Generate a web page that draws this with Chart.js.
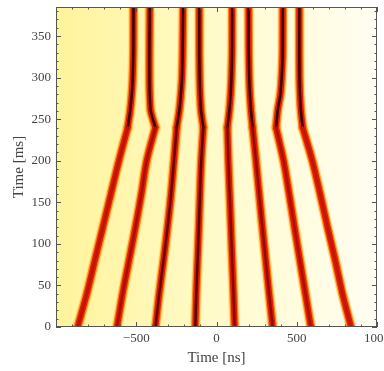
<!DOCTYPE html>
<html>
<head>
<meta charset="utf-8">
<script src="https://cdn.jsdelivr.net/npm/chart.js@4"></script>
<style>
  html, body { margin: 0; padding: 0; background: #fff; overflow: hidden; }
</style>
</head>
<body>
<canvas id="trackChart" width="384" height="371"></canvas>
<script>
// sample times (ms) shared by every track; the kink sits at 240 ms
const times = [0, 40, 80, 120, 160, 200, 240, 260, 280, 300, 330, 385];
const kinkTime = 240;

// track centre positions (ns) at each sample time
const track1 = [-865, -808, -758, -708, -658, -608, -553, -538, -528, -522, -518, -517];
const track2 = [-620, -585, -545, -505, -468, -435, -381, -410, -416, -418, -418, -416];
const track3 = [-380, -357, -330, -305, -283, -265, -248, -232, -222, -215, -211, -208];
const track4 = [-132, -126, -118, -110, -103, -95, -82, -96, -102, -105, -107, -107];
const track5 = [113, 106, 98, 90, 82, 74, 68, 80, 88, 93, 97, 98];
const track6 = [350, 328, 307, 286, 266, 246, 225, 215, 208, 204, 201, 200];
const track7 = [588, 554, 520, 486, 453, 418, 371, 381, 398, 406, 412, 413];
const track8 = [838, 785, 740, 692, 646, 597, 537, 526, 520, 517, 516, 516];

const xTicks = [-500, 0, 500, 1000];
const yTicks = [0, 50, 100, 150, 200, 250, 300, 350];

const tracks = [track1, track2, track3, track4, track5, track6, track7, track8];
// core shade below the kink, darker for the inner tracks
const lowerCore = ["#c01400", "#ac0e00", "#6a0600", "#5a0400", "#8a0800", "#980a00", "#b40e00", "#c41600"];
const upperCore = "#3c0000";

function toPoints(track, upper) {
  return track
    .map((x, i) => ({ x: x, y: times[i] }))
    .filter(p => upper ? p.y >= kinkTime : p.y <= kinkTime);
}

function layer(points, width, color, order, tension) {
  return {
    data: points,
    showLine: true,
    pointRadius: 0,
    borderWidth: width,
    borderColor: color,
    borderJoinStyle: "round",
    borderCapStyle: "round",
    tension: tension,
    clip: 0,
    order: order
  };
}

const datasets = [];
tracks.forEach((t, i) => {
  [false, true].forEach(upper => {
    const pts = toPoints(t, upper);
    const k = upper ? 0.2 : 0.3;
    datasets.push(layer(pts, 11, "rgba(255,200,60,0.45)", 4, k));
    datasets.push(layer(pts, 8.5, "#f58a1c", 3, k));
    datasets.push(layer(pts, 6, "#de1c08", 2, k));
    datasets.push(layer(pts, 2.5, upper ? upperCore : lowerCore[i], 1, k));
  });
});

// pale yellow field behind the tracks
const backdrop = {
  id: "backdrop",
  beforeDatasetsDraw(chart) {
    const { ctx, chartArea: a } = chart;
    const g = ctx.createLinearGradient(a.left, 0, a.right, 0);
    g.addColorStop(0, "#fff49c");
    g.addColorStop(0.25, "#fff7b2");
    g.addColorStop(0.55, "#fffbd0");
    g.addColorStop(1, "#fffef2");
    ctx.save();
    ctx.fillStyle = g;
    ctx.fillRect(a.left, a.top, a.width, a.height);
    ctx.restore();
  }
};

// frame with inward ticks on all four sides
const frameTicks = {
  id: "frameTicks",
  afterDatasetsDraw(chart) {
    const { ctx, chartArea: a, scales: { x, y } } = chart;
    ctx.save();
    ctx.strokeStyle = "#555";
    ctx.lineWidth = 1;
    ctx.strokeRect(a.left + 0.5, a.top + 0.5, a.width - 1, a.height - 1);
    ctx.beginPath();
    for (let v = -1000; v <= 1000; v += 100) {
      const px = Math.round(x.getPixelForValue(v)) + 0.5;
      const len = v % 500 === 0 ? 5 : 2.5;
      ctx.moveTo(px, a.bottom); ctx.lineTo(px, a.bottom - len);
      ctx.moveTo(px, a.top); ctx.lineTo(px, a.top + len);
    }
    for (let v = 0; v <= 385; v += 10) {
      const py = Math.round(y.getPixelForValue(v)) + 0.5;
      const len = v % 50 === 0 ? 5 : 2.5;
      ctx.moveTo(a.left, py); ctx.lineTo(a.left + len, py);
      ctx.moveTo(a.right, py); ctx.lineTo(a.right - len, py);
    }
    ctx.stroke();
    ctx.restore();
  }
};

const serif = "'Liberation Serif', 'DejaVu Serif', serif";

// drop the label-driven padding so the plot box is placed exactly
function noEdgePadding(s) {
  s.paddingTop = 0;
  s.paddingBottom = 0;
  s.paddingLeft = 0;
  s.paddingRight = 0;
}

new Chart(document.getElementById("trackChart"), {
  type: "scatter",
  data: { datasets: datasets },
  plugins: [backdrop, frameTicks],
  options: {
    responsive: false,
    animation: false,
    events: [],
    layout: { padding: { top: 7, left: 0, right: 7, bottom: 0 } },
    plugins: { legend: { display: false }, tooltip: { enabled: false } },
    scales: {
      x: {
        type: "linear",
        min: -1000,
        max: 1000,
        afterBuildTicks: s => { s.ticks = xTicks.map(v => ({ value: v })); },
        afterFit: s => { s.height = 44; noEdgePadding(s); },
        grid: { display: false, drawTicks: false, tickLength: 0 },
        border: { display: false },
        ticks: {
          autoSkip: false,
          maxRotation: 0,
          padding: 4,
          color: "#444",
          font: { family: serif, size: 13 },
          callback: v => v < 0 ? "\u2212" + Math.abs(v) : String(v)
        },
        title: {
          display: true,
          text: "Time [ns]",
          color: "#444",
          font: { family: serif, size: 15 },
          padding: { top: 0, bottom: 4 }
        }
      },
      y: {
        type: "linear",
        min: 0,
        max: 385,
        afterBuildTicks: s => { s.ticks = yTicks.map(v => ({ value: v })); },
        afterFit: s => { s.width = 56; noEdgePadding(s); },
        grid: { display: false, drawTicks: false, tickLength: 0 },
        border: { display: false },
        ticks: {
          autoSkip: false,
          padding: 5,
          color: "#444",
          font: { family: serif, size: 13 }
        },
        title: {
          display: true,
          text: "Time [ms]",
          color: "#444",
          font: { family: serif, size: 15 },
          padding: { top: 10, bottom: 0 }
        }
      }
    }
  }
});
</script>
</body>
</html>
